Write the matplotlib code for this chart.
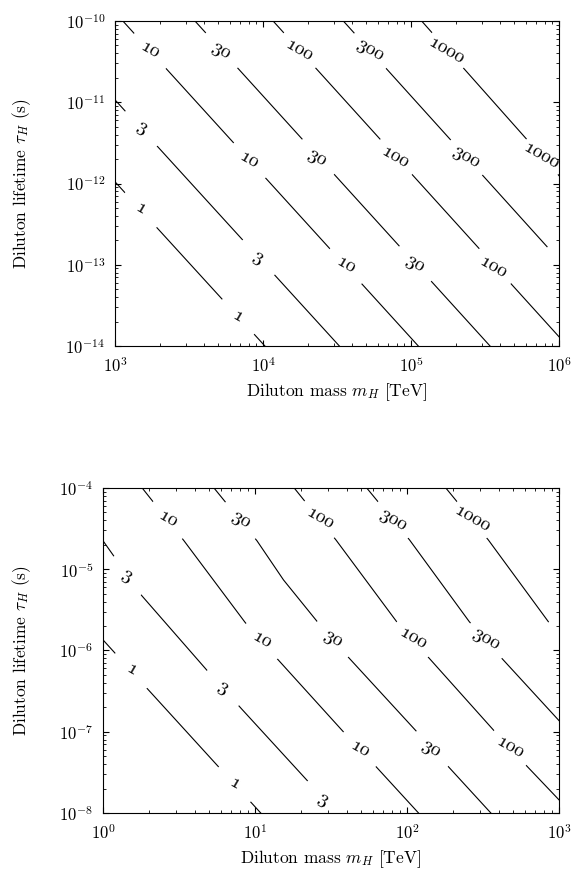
import matplotlib
matplotlib.use("Agg")
import matplotlib.pyplot as plt

plt.rcParams['font.family'] = 'serif'
plt.rcParams['font.serif'] = ['cmr10']
plt.rcParams['mathtext.fontset'] = 'cm'
plt.rcParams['axes.formatter.use_mathtext'] = True
plt.rcParams['font.size'] = 12

# contour levels, same order as the point lists below
levels = ['1', '3', '10', '30', '100', '300', '1000']

# upper panel: points along each contour (mass in TeV, lifetime in s)
top_line_m = [
    [1.0e3, 1.03e4],
    [1.0e3, 3.28e4],
    [1.13e3, 1.12e5],
    [3.47e3, 3.42e5],
    [1.17e4, 1.0e6],
    [3.49e4, 8.3e5],
    [1.18e5, 1.0e6],
]
top_line_tau = [
    [1.05e-12, 1.0e-14],
    [1.07e-11, 1.0e-14],
    [1.0e-10, 1.0e-14],
    [1.0e-10, 1.0e-14],
    [1.0e-10, 1.30e-14],
    [1.0e-10, 1.67e-13],
    [1.0e-10, 1.25e-12],
]
# upper panel: where the contour labels sit
top_label_m = [
    [1.51e3, 6.81e3],
    [1.51e3, 9.29e3],
    [1.72e3, 8.07e3, 3.62e4],
    [5.18e3, 2.33e4, 1.06e5],
    [1.75e4, 7.80e4, 3.60e5],
    [5.28e4, 2.36e5],
    [1.74e5, 7.64e5],
]
top_label_tau = [
    [4.95e-13, 2.34e-14],
    [5.0e-12, 1.26e-13],
    [4.40e-11, 1.95e-12, 9.93e-14],
    [4.40e-11, 2.14e-12, 1.04e-13],
    [4.40e-11, 2.14e-12, 9.31e-14],
    [4.40e-11, 2.14e-12],
    [4.40e-11, 2.20e-12],
]

# lower panel
bot_line_m = [
    [1.0, 1.99, 5.74, 10.9],
    [1.0, 1.80, 4.81, 8.18, 22.4, 28.1],
    [1.81, 3.41, 8.60, 13.9, 38.1, 62.5, 119],
    [5.37, 10.3, 15.4, 25.7, 41.7, 116, 187, 356],
    [18.1, 34.1, 85.5, 140, 379, 619, 1000],
    [54.3, 104, 257, 420, 1000],
    [180, 343, 851],
]
bot_line_tau = [
    [1.35e-6, 3.27e-7, 3.72e-8, 1.0e-8],
    [2.24e-5, 4.72e-6, 5.75e-7, 1.90e-7, 2.43e-8, 1.52e-8],
    [1.0e-4, 2.24e-5, 2.22e-6, 8.02e-7, 1.00e-7, 3.72e-8, 1.0e-8],
    [1.0e-4, 2.24e-5, 7.38e-6, 2.26e-6, 8.02e-7, 1.00e-7, 3.72e-8, 1.0e-8],
    [1.0e-4, 2.29e-5, 2.26e-6, 8.02e-7, 1.00e-7, 3.72e-8, 1.45e-8],
    [1.0e-4, 2.29e-5, 2.26e-6, 8.02e-7, 1.37e-7],
    [1.0e-4, 2.29e-5, 2.26e-6],
]
bot_label_m = [
    [1.545, 7.39],
    [1.445, 6.18, 28.1],
    [2.69, 11.1, 49.1],
    [8.05, 32.6, 145],
    [26.8, 110, 476],
    [81.3, 334],
    [271],
]
bot_label_tau = [
    [5.87e-7, 2.36e-8],
    [8.49e-6, 3.58e-7, 1.52e-8],
    [4.15e-5, 1.35e-6, 6.25e-8],
    [4.15e-5, 1.43e-6, 6.25e-8],
    [4.24e-5, 1.43e-6, 6.55e-8],
    [4.15e-5, 1.39e-6],
    [4.24e-5],
]


def draw_panel(ax, line_m, line_tau, lab_m, lab_tau, xlim, ylim):
    ax.set_xscale('log')
    ax.set_yscale('log')
    for m, t in zip(line_m, line_tau):
        ax.plot(m, t, color='k', lw=0.8, zorder=2)
    for lev, m, t in zip(levels, lab_m, lab_tau):
        # white disc under the label opens the gap in the line
        ax.plot(m, t, ls='none', marker='o', ms=34, mfc='white', mec='none', zorder=2.2)
        for mi, ti in zip(m, t):
            ax.text(mi, ti, lev, family='cmmi10', fontsize=14, rotation=-30,
                    ha='center', va='center', rotation_mode='anchor', zorder=3)
    ax.set_xlim(xlim)
    ax.set_ylim(ylim)
    ax.set_axisbelow(False)
    ax.tick_params(which='both', direction='in', top=True, right=True, pad=7)
    ax.tick_params(which='major', length=4.5, width=0.8)
    ax.tick_params(which='minor', length=2.2, width=0.6)
    ax.set_xlabel(r'Diluton mass $m_H$ [TeV]', fontsize=12.5)
    ax.set_ylabel(r'Diluton lifetime $\tau_H$ (s)', fontsize=12.5)


fig = plt.figure(figsize=(5.8, 8.72), dpi=100)
ax1 = fig.add_axes([0.1983, 0.6032, 0.7655, 0.3727])
ax2 = fig.add_axes([0.1776, 0.0677, 0.7862, 0.3727])

draw_panel(ax1, top_line_m, top_line_tau, top_label_m, top_label_tau, (1e3, 1e6), (1e-14, 1e-10))
draw_panel(ax2, bot_line_m, bot_line_tau, bot_label_m, bot_label_tau, (1e0, 1e3), (1e-8, 1e-4))

ax1.yaxis.set_label_coords(-0.185, 0.5)
ax2.yaxis.set_label_coords(-0.154, 0.5)
ax1.xaxis.set_label_coords(0.5, -0.11)
ax2.xaxis.set_label_coords(0.5, -0.11)

fig.savefig('out.png', dpi=100)
